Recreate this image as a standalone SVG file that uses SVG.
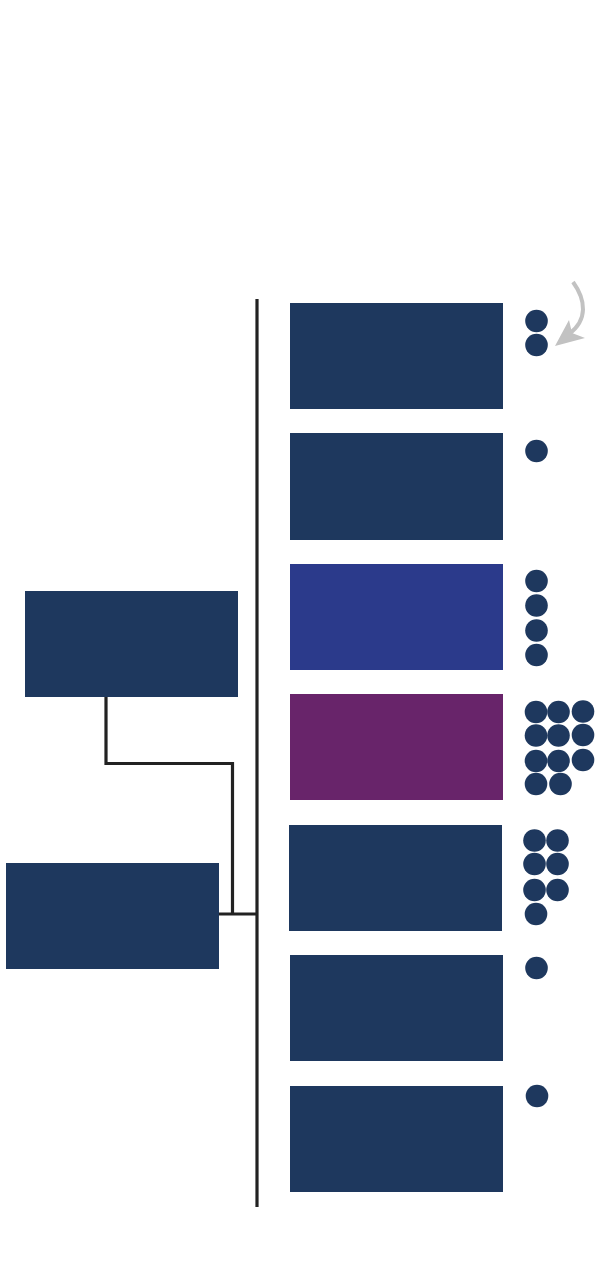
<svg xmlns="http://www.w3.org/2000/svg" width="600" height="1284" viewBox="0 0 600 1284">
<style>
.n{fill:#1e385e}
.b{fill:#2b3a8b}
.p{fill:#68246a}
.d{fill:#1e385e}
.c{fill:none;stroke:#222;stroke-width:3.2}
</style>
<rect width="600" height="1284" fill="#fff"/>
<g id="connectors">
<line class="c" x1="257" y1="299" x2="257" y2="1207"/>
<polyline class="c" points="106,697 106,763.5 232.5,763.5 232.5,914"/>
<line class="c" x1="219" y1="914" x2="257" y2="914"/>
<path d="M573,282 C586,300 588,320 569,334" fill="none" stroke="#c2c2c2" stroke-width="4"/>
<polygon points="555,346 569,320 572,333 585,338" fill="#c2c2c2"/>
</g>
<g id="node-left-1"><rect class="n" x="25" y="591" width="213" height="106"/></g>
<g id="node-left-2"><rect class="n" x="6" y="863" width="213" height="106"/></g>
<g id="node-r1"><rect class="n" x="290" y="303" width="213" height="106"/>
<circle class="d" cx="536.5" cy="321" r="11.3"/><circle class="d" cx="536.5" cy="345" r="11.3"/></g>
<g id="node-r2"><rect class="n" x="290" y="433" width="213" height="107"/>
<circle class="d" cx="536.5" cy="451" r="11.3"/></g>
<g id="node-r3"><rect class="b" x="290" y="564" width="213" height="106"/>
<circle class="d" cx="536.5" cy="581" r="11.3"/><circle class="d" cx="536.5" cy="605.5" r="11.3"/><circle class="d" cx="536.5" cy="630.5" r="11.3"/><circle class="d" cx="536.5" cy="655" r="11.3"/></g>
<g id="node-r4"><rect class="p" x="290" y="694" width="213" height="106"/>
<circle class="d" cx="536" cy="712" r="11.3"/><circle class="d" cx="558.5" cy="712" r="11.3"/><circle class="d" cx="583" cy="711.5" r="11.3"/>
<circle class="d" cx="536" cy="735.5" r="11.3"/><circle class="d" cx="558.5" cy="735.5" r="11.3"/><circle class="d" cx="583" cy="735" r="11.3"/>
<circle class="d" cx="536" cy="761" r="11.3"/><circle class="d" cx="558.5" cy="761" r="11.3"/><circle class="d" cx="583" cy="760" r="11.3"/>
<circle class="d" cx="536" cy="784" r="11.3"/><circle class="d" cx="560.5" cy="784" r="11.3"/></g>
<g id="node-r5"><rect class="n" x="289" y="825" width="213" height="106"/>
<circle class="d" cx="534.5" cy="840.5" r="11.3"/><circle class="d" cx="557.5" cy="840.5" r="11.3"/>
<circle class="d" cx="534.5" cy="864" r="11.3"/><circle class="d" cx="557.5" cy="864" r="11.3"/>
<circle class="d" cx="534.5" cy="890" r="11.3"/><circle class="d" cx="557.5" cy="890" r="11.3"/>
<circle class="d" cx="536" cy="914" r="11.3"/></g>
<g id="node-r6"><rect class="n" x="290" y="955" width="213" height="106"/>
<circle class="d" cx="536.5" cy="968" r="11.3"/></g>
<g id="node-r7"><rect class="n" x="290" y="1086" width="213" height="106"/>
<circle class="d" cx="537" cy="1096" r="11.3"/></g>
</svg>
